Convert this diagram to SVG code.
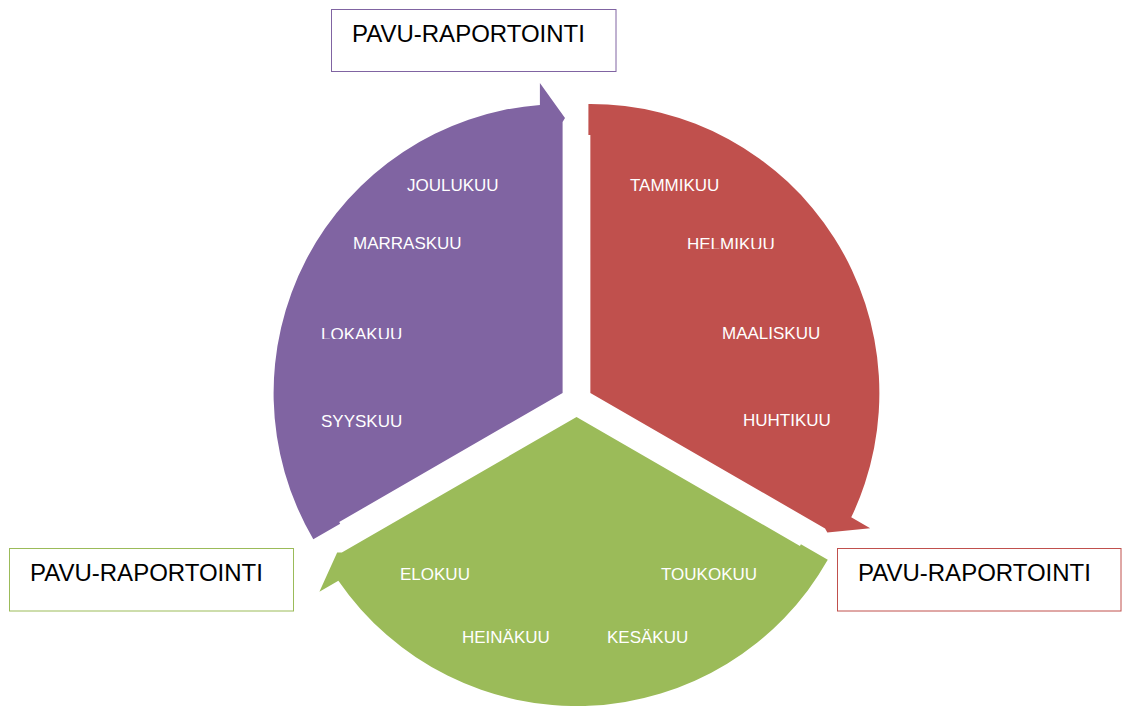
<svg xmlns="http://www.w3.org/2000/svg" width="1122" height="706" viewBox="0 0 1122 706">
<style>
.lbl{font-family:"Liberation Sans",Arial,sans-serif;font-size:17px;fill:#ffffff}
.box{fill:#ffffff;stroke-width:1}
.btxt{font-family:"Liberation Sans",Arial,sans-serif;font-size:24px;fill:#000000}
</style>
<defs>
<path id="seg" d="M -13.9,-8 L -237.3,121 L -236.3,122.7 L -263.2,138.2 A 289 289 0 0 1 -36.6,-296.1 L -36.6,-318 L -11.5,-283 L -13.9,-279 Z"/>
<clipPath id="clipLoka"><rect x="300" y="300" width="150" height="39"/></clipPath>
<clipPath id="clipHelmi"><rect x="660" y="220" width="150" height="29"/></clipPath>
</defs>
<rect width="1122" height="706" fill="#ffffff"/>
<g id="connectors"></g>
<g id="segment-autumn">
<use href="#seg" transform="translate(576.5,401)" fill="#8064A2"/>
<text class="lbl" x="407" y="191">JOULUKUU</text>
<text class="lbl" x="353" y="249">MARRASKUU</text>
<text class="lbl" x="321" y="340" clip-path="url(#clipLoka)">LOKAKUU</text>
<text class="lbl" x="321" y="427">SYYSKUU</text>
</g>
<g id="segment-spring">
<use href="#seg" transform="translate(576.5,401) rotate(120)" fill="#C0504D"/>
<text class="lbl" x="630" y="191">TAMMIKUU</text>
<text class="lbl" x="687" y="250" clip-path="url(#clipHelmi)">HELMIKUU</text>
<text class="lbl" x="722" y="339">MAALISKUU</text>
<text class="lbl" x="743" y="426">HUHTIKUU</text>
</g>
<g id="segment-summer">
<use href="#seg" transform="translate(576.5,401) rotate(240)" fill="#9BBB59"/>
<text class="lbl" x="400" y="580">ELOKUU</text>
<text class="lbl" x="661" y="580">TOUKOKUU</text>
<text class="lbl" x="462" y="643">HEINÄKUU</text>
<text class="lbl" x="607" y="643">KESÄKUU</text>
</g>
<g id="box-top">
<rect class="box" x="331.5" y="9.5" width="284.5" height="62" stroke="#8064A2"/>
<text class="btxt" x="352" y="42">PAVU-RAPORTOINTI</text>
</g>
<g id="box-left">
<rect class="box" x="9.5" y="548.5" width="284" height="62.5" stroke="#9BBB59"/>
<text class="btxt" x="30" y="581">PAVU-RAPORTOINTI</text>
</g>
<g id="box-right">
<rect class="box" x="837.5" y="548.5" width="283.5" height="62.5" stroke="#C0504D"/>
<text class="btxt" x="858" y="581">PAVU-RAPORTOINTI</text>
</g>
</svg>
